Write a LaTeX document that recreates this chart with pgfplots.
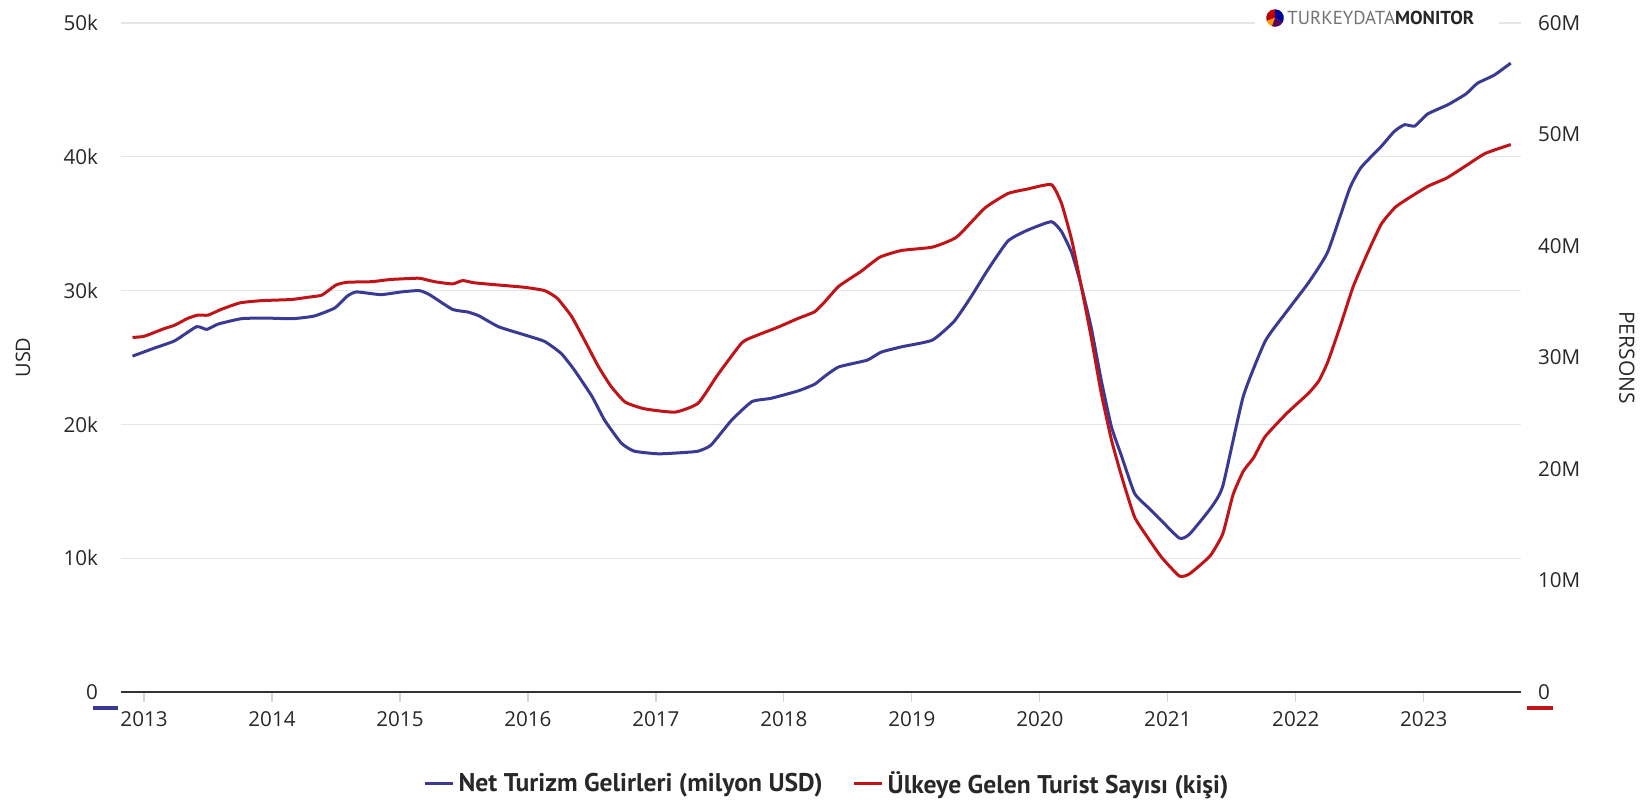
\documentclass[border=0pt]{standalone}
\usepackage{pgfplots}
\usepackage{pgfplotstable}
\pgfplotsset{compat=1.18}
\usepackage{fontspec}
\setmainfont{Open Sans}
\newfontfamily\legendfont{PT Sans}
\newfontfamily\logofont{PT Sans}
\definecolor{cblue}{RGB}{58,58,148}
\definecolor{cred}{RGB}{192,20,24}
\definecolor{gridc}{RGB}{230,230,230}
\definecolor{tickc}{RGB}{204,214,235}
\definecolor{axc}{RGB}{51,51,51}
\definecolor{labc}{RGB}{40,40,40}

% Net tourism revenue, million USD (12-month rolling)
\pgfplotstableread{
x y
2012.91 25100
2013.08 25700
2013.24 26250
2013.41 27300
2013.49 27100
2013.58 27500
2013.76 27900
2013.94 27950
2014.16 27900
2014.33 28100
2014.49 28700
2014.59 29600
2014.66 29900
2014.85 29700
2015.01 29900
2015.15 30000
2015.23 29700
2015.41 28600
2015.53 28400
2015.62 28100
2015.77 27300
2015.97 26700
2016.13 26200
2016.26 25300
2016.36 24100
2016.50 22100
2016.60 20300
2016.73 18600
2016.83 18000
2017.02 17800
2017.22 17900
2017.33 18000
2017.43 18450
2017.59 20300
2017.75 21700
2017.90 21950
2018.11 22500
2018.24 23000
2018.32 23600
2018.43 24300
2018.65 24800
2018.76 25400
2018.92 25800
2019.16 26300
2019.33 27700
2019.46 29500
2019.59 31500
2019.75 33700
2019.90 34500
2020.09 35150
2020.17 34400
2020.25 32800
2020.32 30500
2020.40 27300
2020.48 23300
2020.56 19800
2020.64 17600
2020.74 14850
2020.84 13850
2020.92 13100
2021.09 11500
2021.17 11800
2021.34 13800
2021.43 15400
2021.59 22100
2021.76 26200
2021.91 28200
2022.10 30600
2022.25 32900
2022.42 37600
2022.51 39200
2022.67 40800
2022.77 41900
2022.85 42400
2022.93 42300
2023.03 43200
2023.19 43900
2023.33 44700
2023.42 45500
2023.55 46100
2023.68 47000
}\usdtable

% Tourist arrivals, thousand persons (12-month rolling)
\pgfplotstableread{
x y
2012.91 31800
2013.00 31900
2013.16 32600
2013.24 32900
2013.34 33500
2013.42 33800
2013.50 33800
2013.60 34300
2013.75 34900
2013.92 35100
2014.15 35200
2014.28 35400
2014.39 35600
2014.50 36500
2014.59 36750
2014.78 36800
2014.93 37000
2015.11 37100
2015.16 37100
2015.27 36800
2015.41 36600
2015.49 36900
2015.58 36700
2015.77 36500
2015.97 36300
2016.13 36000
2016.23 35300
2016.34 33700
2016.44 31600
2016.55 29200
2016.65 27400
2016.76 26000
2016.91 25400
2017.15 25100
2017.33 25900
2017.48 28400
2017.67 31300
2017.77 31900
2017.95 32700
2018.11 33500
2018.24 34100
2018.32 35000
2018.43 36400
2018.60 37700
2018.75 39000
2018.92 39600
2019.16 39900
2019.35 40800
2019.57 43400
2019.75 44700
2019.90 45100
2020.09 45500
2020.17 43800
2020.25 40500
2020.32 36600
2020.40 31900
2020.48 26800
2020.56 22600
2020.64 19300
2020.74 15700
2020.84 13900
2020.95 12100
2021.09 10400
2021.17 10600
2021.33 12200
2021.43 14200
2021.51 17700
2021.59 19800
2021.67 21000
2021.76 22900
2021.93 25000
2022.10 26800
2022.18 27900
2022.25 29600
2022.35 32900
2022.45 36400
2022.57 39600
2022.67 42000
2022.78 43500
2022.91 44500
2023.04 45400
2023.18 46100
2023.33 47200
2023.48 48300
2023.68 49100
}\perstable

\begin{document}
\begin{tikzpicture}
\useasboundingbox (-60.5pt,-55.5pt) rectangle (765pt,346pt);
\begin{axis}[
  at={(0,0)}, anchor=south west, scale only axis,
  width=700pt, height=334.5pt,
  xmin=2012.82, xmax=2023.76, ymin=0, ymax=50000,
  scaled ticks=false,
  axis x line*=bottom, axis y line*=left,
  x axis line style={axc, line width=1pt},
  y axis line style={draw=none},
  xtick={2013,2014,2015,2016,2017,2018,2019,2020,2021,2022,2023},
  xticklabels={2013,2014,2015,2016,2017,2018,2019,2020,2021,2022,2023},
  ytick={0,10000,20000,30000,40000,50000},
  yticklabels={0,10k,20k,30k,40k,50k},
  ymajorgrids, grid style={gridc, line width=0.6pt},
  tick align=outside, major tick length=5pt,
  x tick style={tickc, line width=0.6pt},
  y tick style={draw=none},
  tick label style={font=\fontsize{10.3}{12}\selectfont, text=labc},
  yticklabel style={xshift=-3pt},
  xticklabel style={yshift=-1pt},
  ylabel={USD},
  ylabel style={at={(axis description cs:-0.07,0.5)}, anchor=center, font=\fontsize{10}{12}\selectfont, text=labc},
  legend columns=2,
  legend style={at={(axis description cs:0.505,-0.1375)}, anchor=center, draw=none, fill=none,
    font=\legendfont\bfseries\fontsize{12.8}{14}\selectfont, text=labc,
    /tikz/every even column/.append style={column sep=13pt}},
  legend image code/.code={\draw[#1, line width=1.5pt] (0pt,0pt) -- (14pt,0pt);},
]
\addplot[cblue, line width=1.5pt, smooth, tension=0.3] table[x=x,y=y]{\usdtable};
\addlegendentry{Net Turizm Gelirleri (milyon USD)}
\addlegendimage{cred, line width=1.5pt}
\addlegendentry{Ülkeye Gelen Turist Sayısı (kişi)}
\end{axis}
\begin{axis}[
  at={(0,0)}, anchor=south west, scale only axis,
  width=700pt, height=334.5pt,
  xmin=2012.82, xmax=2023.76, ymin=0, ymax=60000,
  scaled ticks=false,
  axis x line=none, axis y line*=right,
  y axis line style={draw=none},
  ytick={0,10000,20000,30000,40000,50000,60000},
  yticklabels={0,10M,20M,30M,40M,50M,60M},
  tick align=outside, major tick length=5pt,
  y tick style={draw=none},
  tick label style={font=\fontsize{10.3}{12}\selectfont, text=labc},
  ylabel={PERSONS},
  ylabel style={at={(axis description cs:1.0757,0.5)}, anchor=center, rotate=180, font=\fontsize{10.5}{12}\selectfont, text=labc},
]
\addplot[cred, line width=1.5pt, smooth, tension=0.3] table[x=x,y=y]{\perstable};
\end{axis}
% axis colour indicators
\draw[cblue, line width=2.2pt] (-14pt,-8pt) -- (-1.5pt,-8pt);
\draw[cred, line width=2.2pt] (703pt,-8pt) -- (716pt,-8pt);
% logo
\fill[white] (567pt,327pt) rectangle (689pt,346pt);
\begin{scope}[shift={(577pt,337pt)}]
\fill[red!75!black] (0,0) -- (90:4.4pt) arc (90:200:4.4pt) -- cycle;
\fill[orange!80!yellow] (0,0) -- (200:4.4pt) arc (200:250:4.4pt) -- cycle;
\fill[violet!70!black] (0,0) -- (250:4.4pt) arc (250:330:4.4pt) -- cycle;
\fill[blue!60!black] (0,0) -- (330:4.4pt) arc (330:450:4.4pt) -- cycle;
\end{scope}
\node[anchor=west, inner sep=0pt] at (583pt,337pt) {\logofont\fontsize{9.4}{10}\selectfont\textcolor{black!55}{TURKEYDATA}\textbf{\textcolor{black!85}{MONITOR}}};
\end{tikzpicture}
\end{document}
